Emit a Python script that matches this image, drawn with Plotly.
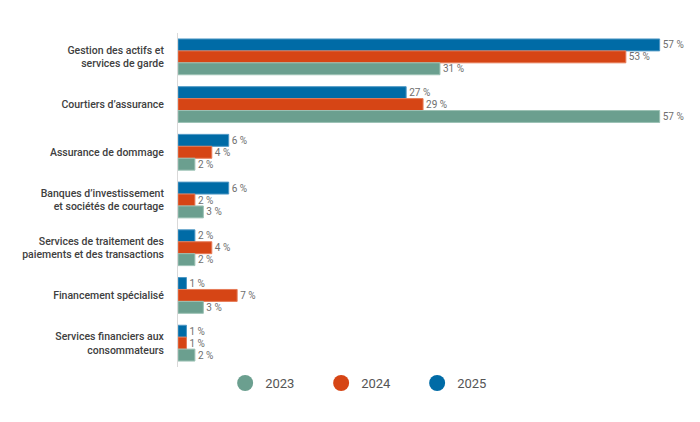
import plotly.graph_objects as go

categories = [
    "Gestion des actifs et<br>services de garde",
    "Courtiers d’assurance",
    "Assurance de dommage",
    "Banques d’investissement<br>et sociétés de courtage",
    "Services de traitement des<br>paiements et des transactions",
    "Financement spécialisé",
    "Services financiers aux<br>consommateurs",
]
years = ["2025", "2024", "2023"]
values_2025 = [57, 27, 6, 6, 2, 1, 1]
values_2024 = [53, 29, 4, 2, 4, 7, 1]
values_2023 = [31, 57, 2, 3, 2, 3, 2]
series = {"2025": values_2025, "2024": values_2024, "2023": values_2023}
colors = {"2025": "#006BA6", "2024": "#D64515", "2023": "#6B9F8F"}
edge = {"2025": "#4d97c4", "2024": "#e67b57", "2023": "#9cc2b5"}
legend_rank = {"2023": 1, "2024": 2, "2025": 3}

fig = go.Figure()
for y in years:
    fig.add_trace(go.Bar(
        y=categories, x=series[y], orientation="h", name=y,
        marker=dict(color=colors[y], line=dict(color=edge[y], width=1)),
        text=series[y], texttemplate="%{x}\u00a0%", textposition="outside",
        textfont=dict(size=10, color="#6e6e6e", family="Roboto"),
        cliponaxis=False, showlegend=False,
    ))
for y in ["2023", "2024", "2025"]:
    fig.add_trace(go.Scatter(
        x=[None], y=[None], mode="markers", name=y,
        marker=dict(color=colors[y], size=17, symbol="circle"),
        legendrank=legend_rank[y],
    ))

fig.update_layout(
    width=700, height=422,
    margin=dict(l=170, r=23, t=25, b=63),
    paper_bgcolor="white", plot_bgcolor="white",
    barmode="group", bargap=0.25, bargroupgap=0,
    font=dict(family="Roboto", color="#444444"),
    xaxis=dict(range=[0, 60], visible=False, showgrid=False, zeroline=False),
    yaxis=dict(autorange="reversed", showline=True, linecolor="#d9d9d9", linewidth=1,
               ticks="", ticklabelstandoff=11, showgrid=False,
               tickfont=dict(size=10.5, color="#404040", family="Roboto", weight=500)),
    legend=dict(orientation="h", x=0.093, xanchor="left", y=-0.048, yanchor="middle",
                entrywidth=51, font=dict(size=13, color="#555555")),
)
fig.write_html("out.html")
